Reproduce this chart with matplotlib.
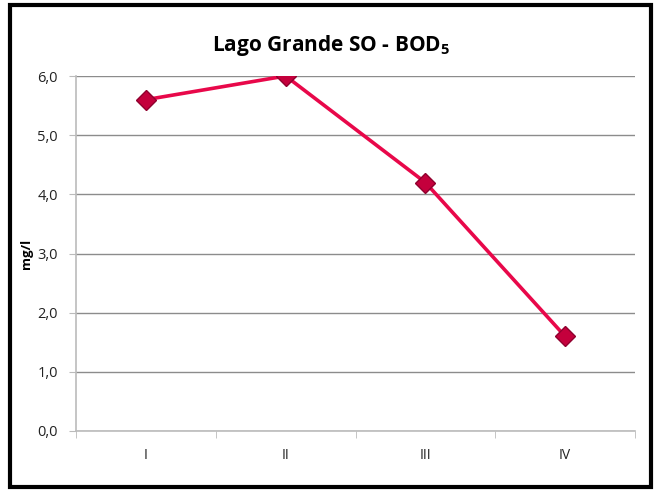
import matplotlib
matplotlib.use("Agg")
import matplotlib.pyplot as plt
from matplotlib.patches import Rectangle

categories = ["I", "II", "III", "IV"]
values = [5.6, 6.0, 4.2, 1.6]
yticks = [0, 1, 2, 3, 4, 5, 6]
ytick_labels = ["0,0", "1,0", "2,0", "3,0", "4,0", "5,0", "6,0"]

plt.rcParams['font.family'] = ['Open Sans', 'DejaVu Sans']
plt.rcParams['mathtext.fontset'] = 'custom'
plt.rcParams['mathtext.rm'] = 'Open Sans'
plt.rcParams['mathtext.bf'] = 'Open Sans:bold'

W, H = 662, 492
fig = plt.figure(figsize=(W / 100, H / 100), dpi=100)
ax = fig.add_axes([76 / W, 1 - 431 / H, (635 - 76) / W, (431 - 76) / H])

x = list(range(1, len(categories) + 1))
ax.plot(x, values, color='#E8084A', lw=2.6, zorder=3,
        marker='D', markersize=10, markerfacecolor='#C4003C',
        markeredgecolor='#90002E', markeredgewidth=1.0)

ax.set_xlim(0.5, len(categories) + 0.5)
ax.set_ylim(0, 6)
ax.set_yticks(yticks)
ax.set_yticklabels(ytick_labels, fontsize=10.5, color='#222222')
ax.set_xticks(x)
ax.set_xticklabels(categories, fontsize=10, color='#222222')
ax.tick_params(axis='x', length=0, pad=12)
ax.set_xticks([i + 0.5 for i in range(0, len(categories) + 1)], minor=True)
ax.tick_params(axis='x', which='minor', length=5, color='#BBBBBB', direction='out')
ax.tick_params(axis='y', length=5, color='#BBBBBB', direction='out', pad=8)

ax.grid(axis='y', color='#8C8C8C', lw=1.0)
ax.set_axisbelow(True)
for s in ['top', 'right']:
    ax.spines[s].set_visible(False)
for s in ['left', 'bottom']:
    ax.spines[s].set_color('#BBBBBB')
    ax.spines[s].set_linewidth(1.2)

ax.set_ylabel('mg/l', fontsize=9.5, fontweight='bold')
ax.yaxis.set_label_coords(-0.077, 0.5)

fig.text(331 / W, 1 - 45 / H, r'Lago Grande SO - BOD$_\mathbf{5}$', ha='center', va='center',
         fontsize=15, fontweight='bold')

fig.patches.append(Rectangle((10 / W, 5 / H), 641 / W, 482 / H, transform=fig.transFigure,
                             fill=False, edgecolor='black', lw=3))

fig.savefig('out.png', dpi=100)
